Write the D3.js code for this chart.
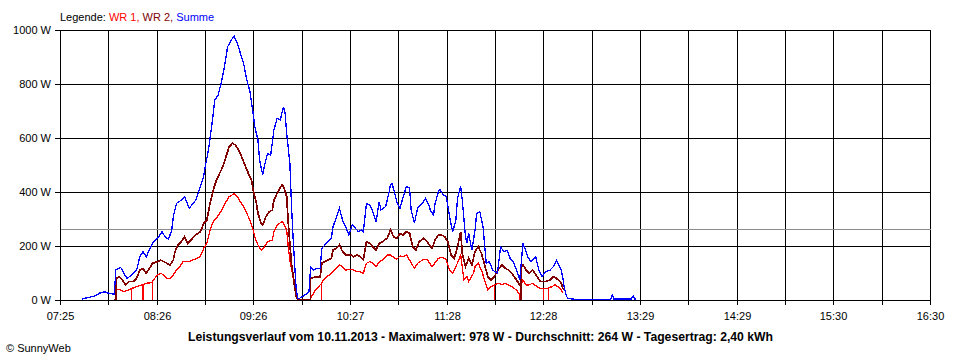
<!DOCTYPE html>
<html><head><meta charset="utf-8">
<script src="https://cdn.jsdelivr.net/npm/d3@7"></script>
<style>
body{margin:0;background:#fff}
svg{display:block}
text{font-family:"Liberation Sans",Arial,sans-serif;font-size:11px;fill:#000}
</style>
</head><body>
<svg id="c" width="960" height="360"></svg>
<script>
const tickLabels = ["07:25","08:26","09:26","10:27","11:28","12:28","13:29","14:29","15:30","16:30"];
const yTicks = [0,200,400,600,800,1000];
const seriesNames = ["WR 1","WR 2","Summe"];
const averageW = 264;
const titleText = "Leistungsverlauf vom 10.11.2013 - Maximalwert: 978 W - Durchschnitt: 264 W - Tagesertrag: 2,40 kWh";

const wr1 = [["07:59",0],["08:00",0],["08:00",37],["08:02",40],["08:05",31],["08:08",37],["08:10",43],["08:10",0],["08:10",43],["08:13",49],["08:16",56],["08:17",56],["08:17",0],["08:17",56],["08:19",62],["08:22",64],["08:23",64],["08:23",0],["08:23",70],["08:26",93],["08:28",99],["08:30",93],["08:32",80],["08:34",80],["08:36",93],["08:38",111],["08:40",123],["08:42",142],["08:44",142],["08:46",142],["08:48",148],["08:51",154],["08:53",162],["08:55",191],["08:57",210],["08:59",259],["09:01",290],["09:03",303],["09:05",321],["09:07",340],["09:09",364],["09:11",383],["09:14",393],["09:16",383],["09:18",364],["09:20",346],["09:22",321],["09:24",296],["09:26",259],["09:27",234],["09:29",204],["09:31",185],["09:33",197],["09:35",216],["09:38",222],["09:39",253],["09:41",278],["09:44",290],["09:45",284],["09:47",259],["09:48",197],["09:49",148],["09:51",86],["09:52",43],["09:53",12],["09:54",0],["10:01",0],["10:02",6],["10:05",37],["10:08",56],["10:09",60],["10:09",0],["10:09",62],["10:10",74],["10:12",86],["10:14",93],["10:16",105],["10:18",117],["10:20",130],["10:22",123],["10:24",111],["10:27",114],["10:29",111],["10:31",105],["10:33",105],["10:35",99],["10:37",136],["10:39",142],["10:41",136],["10:43",123],["10:45",142],["10:47",148],["10:50",167],["10:52",167],["10:54",158],["10:56",151],["10:58",163],["11:00",160],["11:02",167],["11:04",148],["11:07",117],["11:09",136],["11:12",148],["11:15",151],["11:16",142],["11:18",123],["11:20",138],["11:22",154],["11:24",158],["11:26",154],["11:27",148],["11:29",111],["11:31",99],["11:33",123],["11:36",167],["11:37",123],["11:38",74],["11:40",86],["11:41",68],["11:44",99],["11:45",123],["11:47",136],["11:49",111],["11:51",74],["11:52",56],["11:53",37],["11:55",49],["11:57",56],["11:57",0],["11:57",56],["12:00",62],["12:02",56],["12:04",62],["12:06",56],["12:08",49],["12:11",37],["12:13",19],["12:13",0],["12:14",60],["12:15",74],["12:17",56],["12:19",56],["12:21",62],["12:24",49],["12:26",43],["12:28",43],["12:28",0],["12:28",43],["12:31",43],["12:31",0],["12:31",45],["12:33",49],["12:35",56],["12:37",49],["12:39",37],["12:40",25]];

const wr2 = [["07:59",0],["08:00",0],["08:00",80],["08:02",86],["08:04",74],["08:06",56],["08:08",68],["08:11",68],["08:13",80],["08:15",111],["08:17",117],["08:19",99],["08:21",117],["08:23",136],["08:26",142],["08:28",148],["08:30",142],["08:32",136],["08:34",130],["08:36",148],["08:37",179],["08:39",204],["08:41",216],["08:43",234],["08:45",210],["08:47",222],["08:50",241],["08:53",253],["08:55",284],["08:57",296],["08:59",358],["09:01",407],["09:03",444],["09:05",469],["09:07",494],["09:09",531],["09:11",568],["09:13",580],["09:15",574],["09:18",543],["09:20",512],["09:23",469],["09:25",444],["09:26",407],["09:28",358],["09:29",321],["09:31",284],["09:32",278],["09:34",309],["09:36",327],["09:38",333],["09:39",370],["09:41",395],["09:44",426],["09:45",420],["09:47",383],["09:48",284],["09:49",210],["09:50",136],["09:52",49],["09:53",12],["09:54",0],["10:01",0],["10:02",0],["10:02",80],["10:05",86],["10:08",86],["10:09",136],["10:11",142],["10:13",148],["10:15",154],["10:16",185],["10:18",191],["10:20",204],["10:22",179],["10:24",167],["10:27",167],["10:29",160],["10:31",167],["10:33",160],["10:35",148],["10:37",216],["10:39",210],["10:41",197],["10:43",185],["10:45",210],["10:47",216],["10:50",229],["10:52",259],["10:54",234],["10:56",229],["10:58",247],["11:00",241],["11:02",253],["11:04",247],["11:06",197],["11:08",185],["11:10",216],["11:13",229],["11:15",216],["11:18",191],["11:20",222],["11:22",241],["11:24",241],["11:26",234],["11:28",216],["11:30",167],["11:32",154],["11:34",197],["11:36",253],["11:37",173],["11:39",123],["11:41",154],["11:43",130],["11:45",179],["11:47",197],["11:49",173],["11:51",130],["11:53",86],["11:55",74],["11:57",86],["12:00",117],["12:02",130],["12:04",117],["12:06",111],["12:08",99],["12:11",74],["12:13",56],["12:14",56],["12:14",0],["12:14",120],["12:15",130],["12:17",111],["12:19",99],["12:21",111],["12:24",86],["12:26",68],["12:29",68],["12:32",74],["12:34",86],["12:36",80],["12:38",70],["12:39",62],["12:40",43],["12:41",37]];

const summe = [["07:39",4],["07:44",11],["07:47",15],["07:50",26],["07:53",30],["07:56",24],["07:59",22],["08:00",111],["08:03",121],["08:05",99],["08:07",80],["08:10",93],["08:13",111],["08:15",160],["08:17",179],["08:19",160],["08:21",185],["08:23",210],["08:26",228],["08:29",253],["08:31",232],["08:33",225],["08:35",259],["08:36",309],["08:38",358],["08:41",370],["08:43",383],["08:46",340],["08:50",370],["08:53",420],["08:55",457],["08:56",494],["08:58",556],["09:00",642],["09:02",741],["09:04",759],["09:06",803],["09:08",864],["09:10",938],["09:13",969],["09:14",978],["09:16",951],["09:18",914],["09:20",877],["09:22",815],["09:24",772],["09:26",691],["09:27",642],["09:29",593],["09:30",519],["09:32",463],["09:33",494],["09:35",543],["09:37",537],["09:39",630],["09:41",673],["09:43",667],["09:45",716],["09:46",691],["09:47",617],["09:49",506],["09:50",352],["09:51",233],["09:52",130],["09:53",37],["09:54",6],["09:55",6],["10:00",25],["10:01",33],["10:02",123],["10:04",111],["10:06",117],["10:08",117],["10:09",191],["10:11",204],["10:13",216],["10:15",229],["10:16",271],["10:18",303],["10:20",340],["10:22",296],["10:24",271],["10:26",241],["10:28",278],["10:30",266],["10:32",253],["10:34",259],["10:35",253],["10:37",358],["10:39",352],["10:41",327],["10:43",290],["10:45",364],["10:46",333],["10:49",346],["10:51",395],["10:52",426],["10:53",432],["10:55",389],["10:56",364],["10:58",340],["11:00",383],["11:02",420],["11:04",414],["11:05",333],["11:07",284],["11:09",340],["11:12",358],["11:14",377],["11:16",352],["11:17",333],["11:19",315],["11:20",358],["11:22",401],["11:23",410],["11:25",389],["11:27",383],["11:28",346],["11:29",309],["11:31",253],["11:33",296],["11:34",377],["11:36",420],["11:37",370],["11:39",234],["11:40",210],["11:41",247],["11:43",185],["11:45",259],["11:46",321],["11:48",327],["11:50",271],["11:51",204],["11:52",136],["11:54",142],["11:56",111],["11:59",99],["12:01",197],["12:03",179],["12:05",185],["12:07",154],["12:09",142],["12:11",111],["12:13",74],["12:15",210],["12:17",179],["12:18",160],["12:20",142],["12:23",160],["12:25",111],["12:27",86],["12:29",105],["12:32",111],["12:34",123],["12:36",148],["12:38",123],["12:39",111],["12:40",80],["12:41",43],["12:42",19],["12:43",6],["12:47",3],["12:53",3],["12:54",0],["12:59",0],["13:00",3],["13:10",3],["13:11",18],["13:12",4],["13:23",4],["13:24",15],["13:25",4],["13:26",4]];

const colors = ["#ff0000","#800000","#0000ff"];
const widths = [1.3,1.7,1.3];

const parse = d3.timeParse("%H:%M");
const svg = d3.select("#c");
const x = d3.scaleTime().domain([parse("07:25"), parse("16:30")]).range([60, 930]);
const y = d3.scaleLinear().domain([0,1000]).range([300, 30]);
const t0 = x.domain()[0], t1 = x.domain()[1];
const nInt = 18;
const grid = d3.range(nInt+1).map(i => new Date(+t0 + (t1 - t0) * i / nInt));
const px = v => Math.round(v) + 0.5;

const g = svg.append("g");
g.selectAll("line.v").data(grid).enter().append("line")
  .attr("x1", d => px(x(d))).attr("x2", d => px(x(d)))
  .attr("y1", px(y(1000))).attr("y2", 305)
  .attr("stroke","#000").attr("shape-rendering","crispEdges");
g.selectAll("line.h").data(yTicks).enter().append("line")
  .attr("x1", 55).attr("x2", px(x(t1))+0.5)
  .attr("y1", d => px(y(d))).attr("y2", d => px(y(d)))
  .attr("stroke","#000").attr("shape-rendering","crispEdges");
g.selectAll("text.y").data(yTicks).enter().append("text")
  .attr("x", 51).attr("y", d => y(d) + 4)
  .attr("text-anchor","end").text(d => d + " W");
g.selectAll("text.x").data(tickLabels).enter().append("text")
  .attr("x", (d,i) => px(x(grid[i*2]))).attr("y", 320)
  .attr("text-anchor","middle").text(d => d);

svg.append("line")
  .attr("x1", px(x(t0))+0.5).attr("x2", px(x(t1)))
  .attr("y1", px(y(averageW))).attr("y2", px(y(averageW)))
  .attr("stroke","#8c8c8c").attr("shape-rendering","crispEdges");

const line = d3.line().x(d => x(parse(d[0]))).y(d => y(d[1]));
[wr1, wr2, summe].forEach((s, i) => {
  svg.append("path").datum(s).attr("d", line)
    .attr("fill","none").attr("stroke", colors[i]).attr("stroke-width", widths[i])
    .attr("stroke-linejoin","miter").attr("shape-rendering","crispEdges");
});

svg.append("line")
  .attr("x1", 55).attr("x2", px(x(t1))+0.5)
  .attr("y1", px(y(0))).attr("y2", px(y(0)))
  .attr("stroke","#000").attr("shape-rendering","crispEdges");

const leg = svg.append("text").attr("x", 60).attr("y", 21);
leg.append("tspan").text("Legende: ");
seriesNames.forEach((n,i) => {
  leg.append("tspan").style("fill", colors[i]).text(n + (i < seriesNames.length-1 ? ", " : ""));
});

svg.append("text").attr("x", 480.5).attr("y", 341)
  .attr("text-anchor","middle").style("font-weight","bold").style("font-size","12px")
  .attr("textLength", 585).attr("lengthAdjust","spacingAndGlyphs")
  .text(titleText);

svg.append("text").attr("x", 6).attr("y", 352).text("\u00A9 SunnyWeb");
</script>
</body></html>
